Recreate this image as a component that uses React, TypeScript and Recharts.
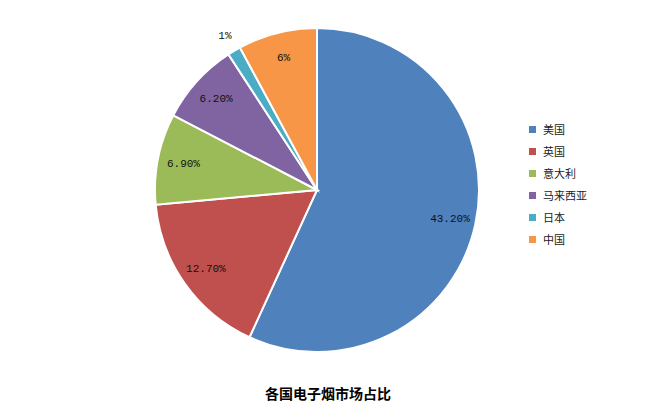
import React from "react";
import { PieChart, Pie, Cell } from "recharts";

const countries = ["美国", "英国", "意大利", "马来西亚", "日本", "中国"];
const shares = [43.2, 12.7, 6.9, 6.2, 1, 6];
const shareLabels = ["43.20%", "12.70%", "6.90%", "6.20%", "1%", "6%"];
const colors = ["#4F81BD", "#C0504D", "#9BBB59", "#8064A2", "#4BACC6", "#F79646"];
const title = "各国电子烟市场占比";

const data = countries.map((name, i) => ({ name, value: shares[i], label: shareLabels[i] }));

const RAD = Math.PI / 180;

const renderLabel = (props: any) => {
  const { cx, cy, midAngle, outerRadius, index } = props;
  const outside = shares[index] < 2;
  const r = outside ? outerRadius * 1.11 : outerRadius * 0.84;
  const x = cx + r * Math.cos(-midAngle * RAD);
  const y = cy + r * Math.sin(-midAngle * RAD);
  return (
    <text
      x={x}
      y={y}
      textAnchor="middle"
      dominantBaseline="central"
      fill="#111"
      fontSize={11}
      fontFamily="'Liberation Mono', 'DejaVu Sans Mono', monospace"
    >
      {shareLabels[index]}
    </text>
  );
};

export default function App() {
  return (
    <div style={{ position: "relative", width: 644, height: 409, background: "#fff" }}>
      <PieChart width={644} height={409}>
        <Pie
          data={data}
          dataKey="value"
          nameKey="name"
          cx={304}
          cy={177}
          outerRadius={162}
          startAngle={90}
          endAngle={-270}
          stroke="#fff"
          strokeWidth={2}
          label={renderLabel}
          labelLine={false}
          isAnimationActive={false}
        >
          {data.map((d, i) => (
            <Cell key={d.name} fill={colors[i]} />
          ))}
        </Pie>
      </PieChart>
      <div
        style={{
          position: "absolute",
          left: 521,
          top: 110,
          fontFamily: "'Noto Sans CJK SC', sans-serif",
          fontSize: 11,
          color: "#222",
        }}
      >
        {countries.map((c, i) => (
          <div key={c} style={{ display: "flex", alignItems: "center", height: 22 }}>
            <span
              style={{ width: 7, height: 7, background: colors[i], display: "inline-block", marginRight: 7 }}
            />
            <span>{c}</span>
          </div>
        ))}
      </div>
      <div
        style={{
          position: "absolute",
          left: 0,
          width: 640,
          top: 375,
          textAlign: "center",
          fontFamily: "'Noto Sans CJK SC', sans-serif",
          fontWeight: 700,
          fontSize: 14,
          color: "#000",
        }}
      >
        {title}
      </div>
    </div>
  );
}
